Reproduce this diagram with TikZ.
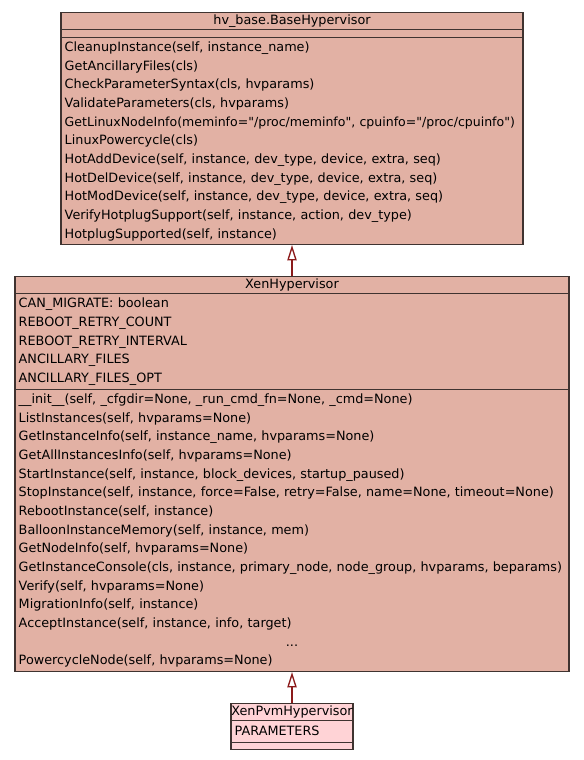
\documentclass[tikz,border=0pt]{standalone}
\usepackage{fontspec}
\setmainfont{DejaVu Sans}
\usepackage{tikz}
\usetikzlibrary{arrows.meta}

\definecolor{classfill}{HTML}{E2B1A4}
\definecolor{leaffill}{HTML}{FFD3D6}
\definecolor{classline}{HTML}{3F3330}
\definecolor{inheritline}{HTML}{8B1A1A}

\begin{document}
\begin{tikzpicture}[x=0.75pt, y=-0.75pt,
			classtitle/.style={draw=classline, fill=classfill, line width=0.8pt, anchor=north, inner sep=0pt, align=center, font=\fontsize{9.6pt}{14pt}\selectfont},
			classpart/.style={draw=classline, fill=classfill, line width=0.8pt, anchor=north, inner xsep=2.8pt, inner ysep=0pt, align=left, font=\fontsize{9.6pt}{14pt}\selectfont},
			inherit/.style={draw=inheritline, line width=1.7pt, -{Triangle[open, length=11.5pt, width=7pt, line width=1pt]}}
		]

		\fill[white] (0,0) rectangle (584,760);
		\useasboundingbox (0,0) rectangle (584,760);

		% base class
		\node[classtitle, minimum width=346.5pt, minimum height=12.75pt] (basetitle) at (292,12) {hv\_base.BaseHypervisor};
		\node[classpart, minimum width=346.5pt, minimum height=6pt] (baseattr) at (292,29) {};
		\node[classpart, minimum width=346.5pt, minimum height=155.25pt, text width=340.9pt] (basemeth) at (292,37) {\strut CleanupInstance(self, instance\_name)\\
			\strut GetAncillaryFiles(cls)\\
			\strut CheckParameterSyntax(cls, hvparams)\\
			\strut ValidateParameters(cls, hvparams)\\
			\strut {\fontsize{9.4pt}{14pt}\selectfont\mbox{GetLinuxNodeInfo(meminfo=\textquotedbl/proc/meminfo\textquotedbl, cpuinfo=\textquotedbl/proc/cpuinfo\textquotedbl)}}\\
			\strut LinuxPowercycle(cls)\\
			\strut HotAddDevice(self, instance, dev\_type, device, extra, seq)\\
			\strut HotDelDevice(self, instance, dev\_type, device, extra, seq)\\
			\strut HotModDevice(self, instance, dev\_type, device, extra, seq)\\
			\strut VerifyHotplugSupport(self, instance, action, dev\_type)\\
			\strut HotplugSupported(self, instance)};

		% xen class
		\node[classtitle, minimum width=415.5pt, minimum height=12.75pt] (xentitle) at (292,276) {XenHypervisor};
		\node[classpart, minimum width=415.5pt, minimum height=72pt, text width=409.9pt] (xenattr) at (292,293) {\strut CAN\_MIGRATE: boolean\\
			\strut REBOOT\_RETRY\_COUNT\\
			\strut REBOOT\_RETRY\_INTERVAL\\
			\strut ANCILLARY\_FILES\\
			\strut ANCILLARY\_FILES\_OPT};
		\node[classpart, minimum width=415.5pt, minimum height=211.5pt, text width=409.9pt] (xenmeth) at (292,389) {\strut \_\_init\_\_(self, \_cfgdir=None, \_run\_cmd\_fn=None, \_cmd=None)\\
			\strut ListInstances(self, hvparams=None)\\
			\strut GetInstanceInfo(self, instance\_name, hvparams=None)\\
			\strut GetAllInstancesInfo(self, hvparams=None)\\
			\strut StartInstance(self, instance, block\_devices, startup\_paused)\\
			\strut \mbox{StopInstance(self, instance, force=False, retry=False, name=None, timeout=None)}\\
			\strut RebootInstance(self, instance)\\
			\strut BalloonInstanceMemory(self, instance, mem)\\
			\strut GetNodeInfo(self, hvparams=None)\\
			\strut \mbox{GetInstanceConsole(cls, instance, primary\_node, node\_group, hvparams, beparams)}\\
			\strut Verify(self, hvparams=None)\\
			\strut MigrationInfo(self, instance)\\
			\strut AcceptInstance(self, instance, info, target)\\
			\strut\hbox to \hsize{\hfil...\hfil}\\
			\strut PowercycleNode(self, hvparams=None)};

		% xen pvm class
		\node[classtitle, fill=leaffill, minimum width=91.5pt, minimum height=13.1pt] (pvmtitle) at (292,702.5) {XenPvmHypervisor};
		\node[classpart, fill=leaffill, minimum width=91.5pt, minimum height=16.3pt, text width=85.9pt] (pvmattr) at (292,720) {\strut PARAMETERS};
		\node[classpart, fill=leaffill, minimum width=91.5pt, minimum height=5.6pt] (pvmmeth) at (292,741.7) {};

		\draw[inherit] (xentitle.north) -- (basemeth.south);
		\draw[inherit] (pvmtitle.north) -- (xenmeth.south);
	\end{tikzpicture}
\end{document}
